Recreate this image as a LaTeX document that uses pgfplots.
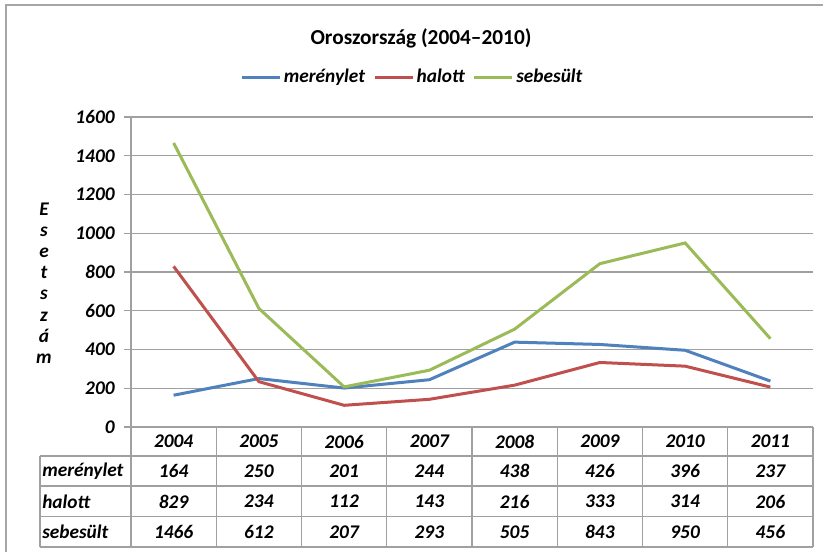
\documentclass[border=0pt]{standalone}
\usepackage{fontspec}
\setmainfont{Carlito}
\usepackage{pgfplots}
\usepackage{pgfplotstable}
\pgfplotsset{compat=1.18}
\definecolor{cblue}{HTML}{4F81BD}
\definecolor{cred}{HTML}{C0504D}
\definecolor{cgreen}{HTML}{9BBB59}
\definecolor{cgrid}{HTML}{A0A0A0}
\definecolor{cframe}{HTML}{A6A6A6}
\pgfplotstableread{
x m h s
0 164 829 1466
1 250 234 612
2 201 112 207
3 244 143 293
4 438 216 505
5 426 333 843
6 396 314 950
7 237 206 456
}\data
\newcommand{\tf}{\fontsize{14.5}{16}\selectfont\bfseries\itshape}
\begin{document}
\begin{tikzpicture}[x=0.75pt,y=-0.75pt]
\path[use as bounding box] (0,0) rectangle (823,552);
\fill[white] (0,0) rectangle (823,552);
\begin{scope}
\clip (0,0) rectangle (823,552);
\draw[cframe, line width=1.5pt] (6,600) -- (6,5.5) -- (900,5.5);
\end{scope}
\node[font=\fontsize{16}{18}\selectfont\bfseries] at (421,38) {Oroszország (2004–2010)};
\begin{axis}[
  at={(98.25pt,-320.25pt)}, anchor=south west,
  scale only axis, width=511.5pt, height=232.5pt,
  xmin=-0.5, xmax=7.5, ymin=0, ymax=1600,
  ytick={0,200,...,1600}, xtick=\empty,
  ymajorgrids, grid style={cgrid, line width=0.9pt},
  separate axis lines,
  axis x line*=bottom, axis y line*=left,
  axis line style={cgrid, line width=0.9pt, -},
  y tick style={cgrid, line width=0.9pt},
  tick align=outside, major tick length=5.25pt,
  /pgf/number format/assume math mode=true,
  /pgf/number format/1000 sep={},
  yticklabel style={font=\tf, xshift=-3.5pt},
  legend columns=3,
  legend style={at={(0.413,1.129)}, anchor=center, draw=none, fill=none,
    font=\tf,
    /tikz/every even column/.append style={column sep=4pt},
    inner sep=0pt},
  legend image code/.code={\draw[#1] (0pt,0pt) -- (28.5pt,0pt);},
  clip=false,
]
\addplot[cblue, line width=2.25pt] table[x=x,y=m] {\data};
\addlegendentry{merénylet}
\addplot[cred, line width=2.25pt] table[x=x,y=h] {\data};
\addlegendentry{halott}
\addplot[cgreen, line width=2.25pt] table[x=x,y=s] {\data};
\addlegendentry{sebesült}
\end{axis}
% data table
\begin{scope}[cgrid, line width=0.9pt]
\foreach \i in {0,...,8} {\draw (131+85.25*\i,427) -- (131+85.25*\i,547);}
\draw (40,456) -- (40,547);
\draw (40,456) -- (813,456);
\draw (40,486) -- (813,486);
\draw (40,516.5) -- (813,516.5);
\draw (40,547) -- (813,547);
\end{scope}
\begin{scope}[every node/.style={font=\tf, inner sep=0pt}]
\foreach \t [count=\i from 0] in {2004,2005,2006,2007,2008,2009,2010,2011}
  {\node at (173.6+85.25*\i,441.5) {\t};}
\foreach \t [count=\i from 0] in {164,250,201,244,438,426,396,237}
  {\node at (173.6+85.25*\i,471) {\t};}
\foreach \t [count=\i from 0] in {829,234,112,143,216,333,314,206}
  {\node at (173.6+85.25*\i,501.5) {\t};}
\foreach \t [count=\i from 0] in {1466,612,207,293,505,843,950,456}
  {\node at (173.6+85.25*\i,532) {\t};}
\node[anchor=west] at (42,471) {merénylet};
\node[anchor=west] at (42,501.5) {halott};
\node[anchor=west] at (42,532) {sebesült};
\node[align=center, font=\fontsize{14.5}{15.9}\selectfont\bfseries\itshape] at (44,283) {E\\s\\e\\t\\s\\z\\á\\m};
\end{scope}
\end{tikzpicture}
\end{document}
